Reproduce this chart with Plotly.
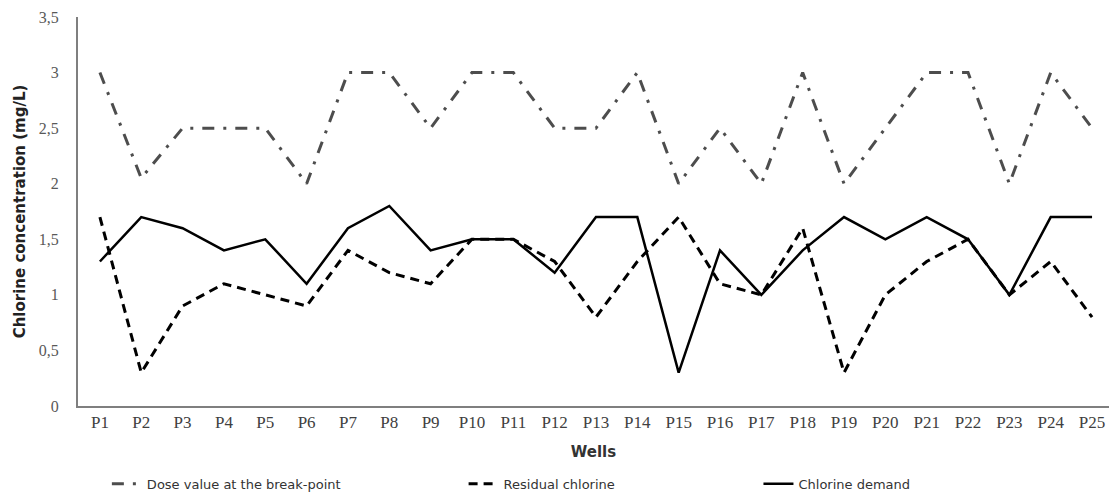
import plotly.graph_objects as go

wells = [f"P{i}" for i in range(1, 26)]
dose_breakpoint = [3.0, 2.05, 2.5, 2.5, 2.5, 2.0, 3.0, 3.0, 2.5, 3.0, 3.0, 2.5, 2.5,
                   3.0, 2.0, 2.5, 2.0, 3.0, 2.0, 2.5, 3.0, 3.0, 2.0, 3.0, 2.5]
residual_chlorine = [1.7, 0.3, 0.9, 1.1, 1.0, 0.9, 1.4, 1.2, 1.1, 1.5, 1.5, 1.3, 0.8,
                     1.3, 1.7, 1.1, 1.0, 1.6, 0.3, 1.0, 1.3, 1.5, 1.0, 1.3, 0.8]
chlorine_demand = [1.3, 1.7, 1.6, 1.4, 1.5, 1.1, 1.6, 1.8, 1.4, 1.5, 1.5, 1.2, 1.7,
                   1.7, 0.3, 1.4, 1.0, 1.4, 1.7, 1.5, 1.7, 1.5, 1.0, 1.7, 1.7]

fig = go.Figure()
fig.add_trace(go.Scatter(
    x=wells, y=dose_breakpoint, mode="lines", name="Dose value at the break-point",
    line=dict(color="#4d4d4d", width=3, dash="12px,9px,3px,9px"), legend="legend"))
fig.add_trace(go.Scatter(
    x=wells, y=residual_chlorine, mode="lines", name="Residual chlorine",
    line=dict(color="black", width=3, dash="9px,6px"), legend="legend2"))
fig.add_trace(go.Scatter(
    x=wells, y=chlorine_demand, mode="lines", name="Chlorine demand",
    line=dict(color="black", width=2.5), legend="legend3"))

legend_common = dict(orientation="h", yanchor="middle", xanchor="left",
                     font=dict(family="DejaVu Sans", size=13, color="#333333"),
                     bgcolor="rgba(0,0,0,0)")

fig.update_layout(
    width=1109, height=499,
    margin=dict(l=78, r=0, t=17, b=87),
    paper_bgcolor="white", plot_bgcolor="white",
    separators=", ",
    showlegend=True,
    xaxis=dict(
        type="category", range=[-0.53, 24.41], showgrid=False, showline=True,
        linecolor="#7f7f7f", linewidth=2,
        ticks="", tickfont=dict(family="Liberation Serif", size=17, color="#404040"),
        title=dict(text="<b>Wells</b>", font=dict(family="DejaVu Sans", size=15, color="#333333"),
                   standoff=15),
    ),
    yaxis=dict(
        range=[0, 3.5], dtick=0.5, showgrid=False, showline=True, linecolor="#7f7f7f",
        linewidth=2, ticks="", zeroline=False,
        tickfont=dict(family="Liberation Serif", size=16, color="#595959"),
        ticklabelstandoff=14,
        title=dict(text="<b>Chlorine concentration (mg/L)</b>",
                   font=dict(family="DejaVu Sans", size=15, color="#222222"), standoff=10),
    ),
    legend=dict(x=0.028, y=-0.2, **legend_common),
    legend2=dict(x=0.374, y=-0.2, **legend_common),
    legend3=dict(x=0.66, y=-0.2, **legend_common),
)

fig.write_html("out.html", config={"displayModeBar": False},
               post_script="document.body.style.margin='0px';")
